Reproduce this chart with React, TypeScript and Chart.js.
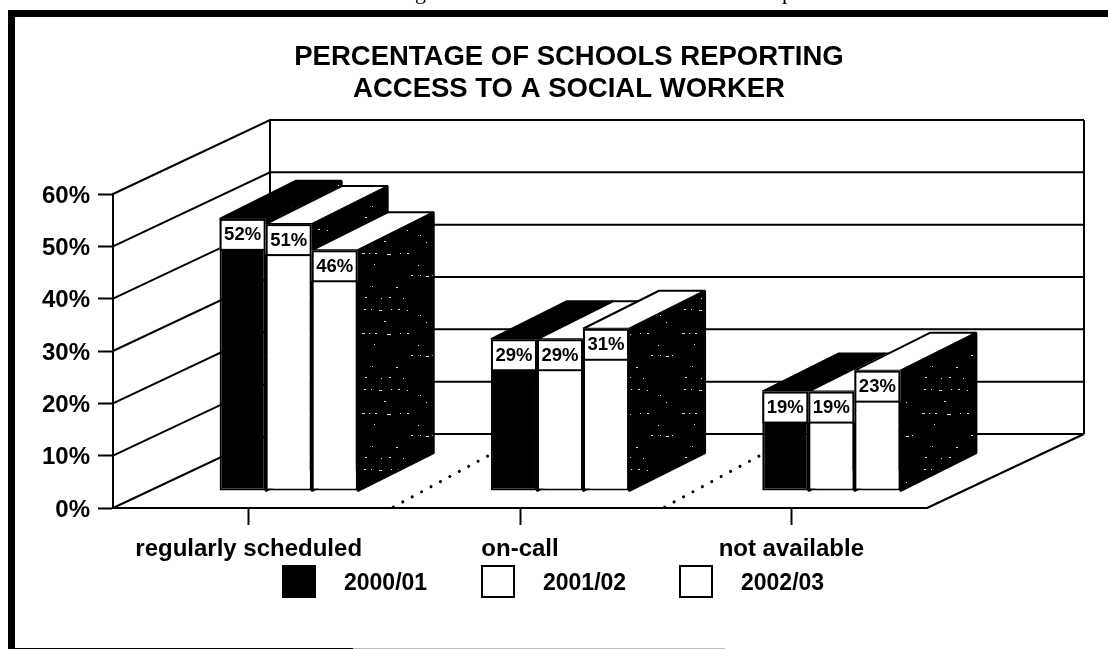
import React, { useEffect, useRef } from "react";
import { Chart, registerables } from "chart.js";

Chart.register(...registerables);

const categories = ["regularly scheduled", "on-call", "not available"];
const seriesNames = ["2000/01", "2001/02", "2002/03"];
const values2000 = [52, 29, 19];
const values2001 = [51, 29, 19];
const values2002 = [46, 31, 23];
const titleLines = ["PERCENTAGE OF SCHOOLS REPORTING", "ACCESS TO A SOCIAL WORKER"];
const yTickValues = [0, 10, 20, 30, 40, 50, 60];

const FONT = '"Liberation Sans", Arial, sans-serif';
const INK = "#000";

// Oblique projection used for the floor, the walls and the columns.
const WALL_DX = 157;
const WALL_DY = -74;
const BAR_SHIFT_X = 40;
const BAR_SHIFT_Y = -17;
const BAR_DEPTH_X = 76;
const BAR_DEPTH_Y = -38;
const LABEL_BOX_H = 31;

// Light flecks on the dark side faces of the columns: [x, y, run length].
const flecks = [
  [4, 6, 2], [11, 6, 1], [19, 7, 3], [31, 6, 1], [38, 6, 2], [47, 7, 1],
  [60, 12, 1], [24, 18, 2], [66, 19, 1],
  [2, 30, 3], [9, 30, 1], [15, 30, 2], [27, 31, 4], [40, 30, 1], [47, 30, 2],
  [14, 41, 1], [58, 42, 1],
  [51, 52, 2], [60, 52, 1], [66, 53, 3], [72, 52, 1],
  [12, 63, 1], [36, 64, 2],
  [5, 74, 2], [21, 75, 1], [29, 74, 2], [43, 75, 1],
];

function sideFill(ctx: CanvasRenderingContext2D): CanvasPattern | string {
  const tile = document.createElement("canvas");
  tile.width = 80;
  tile.height = 80;
  const t = tile.getContext("2d");
  if (!t) return INK;
  t.fillStyle = INK;
  t.fillRect(0, 0, 80, 80);
  t.fillStyle = "#e8e8e8";
  flecks.forEach(([x, y, run]) => t.fillRect(x, y, run, 1));
  return ctx.createPattern(tile, "repeat") || INK;
}

function polygon(ctx: CanvasRenderingContext2D, pts: number[][], fill: any) {
  ctx.beginPath();
  pts.forEach(([x, y], i) => (i ? ctx.lineTo(x, y) : ctx.moveTo(x, y)));
  ctx.closePath();
  ctx.fillStyle = fill;
  ctx.fill();
  ctx.lineWidth = 2;
  ctx.lineJoin = "bevel";
  ctx.strokeStyle = INK;
  ctx.stroke();
}

const chart3d = {
  id: "chart3d",
  afterLayout(chart: any) {
    // Heading is centred on the plot with its depth, not on the page.
    if (chart.titleBlock) chart.titleBlock.left = 211;
  },
  beforeDraw(chart: any) {
    const { ctx, width, height } = chart;
    ctx.save();
    ctx.fillStyle = "#fff";
    ctx.fillRect(0, 0, width, height);
    ctx.fillStyle = INK;
    ctx.fillRect(8, 10, width - 8, 7);
    ctx.fillRect(8, 10, 7, height - 10);
    ctx.fillRect(8, 648, 345, 1);
    ctx.fillStyle = "#bdbdbd";
    ctx.fillRect(353, 648, 372, 1);
    // Descenders of the running text above the frame.
    ctx.fillStyle = INK;
    ctx.font = '22px "Liberation Serif", serif';
    ctx.textAlign = "left";
    ctx.textBaseline = "alphabetic";
    ctx.fillText("g", 415, -1);
    ctx.fillText("p", 782, -1);
    ctx.restore();
  },
  beforeDatasetsDraw(chart: any) {
    const { ctx, chartArea, scales } = chart;
    const { left, right, bottom } = chartArea;
    const y = scales.y;
    const x = scales.x;
    ctx.save();
    ctx.strokeStyle = INK;
    ctx.lineWidth = 2;
    ctx.lineCap = "butt";
    ctx.beginPath();
    // Side wall and back wall gridlines.
    yTickValues.forEach((v) => {
      const py = y.getPixelForValue(v);
      ctx.moveTo(left, py);
      ctx.lineTo(left + WALL_DX, py + WALL_DY);
      ctx.lineTo(right + WALL_DX, py + WALL_DY);
    });
    // Back-wall verticals and the floor's far right edge.
    const topY = y.getPixelForValue(60) + WALL_DY;
    const baseY = bottom + WALL_DY;
    ctx.moveTo(left + WALL_DX, topY);
    ctx.lineTo(left + WALL_DX, baseY);
    ctx.moveTo(right + WALL_DX, topY);
    ctx.lineTo(right + WALL_DX, baseY);
    ctx.moveTo(right, bottom);
    ctx.lineTo(right + WALL_DX, baseY);
    ctx.stroke();

    // Dotted category separators across the floor.
    const step = x.getPixelForValue(1) - x.getPixelForValue(0);
    ctx.save();
    ctx.lineCap = "round";
    ctx.lineWidth = 3;
    ctx.setLineDash([0.1, 10.6]);
    ctx.beginPath();
    [0, 1].forEach((i) => {
      const sx = x.getPixelForValue(i) + step / 2 + 9;
      ctx.moveTo(sx, bottom - 1);
      ctx.lineTo(sx + 100, bottom - 55);
    });
    ctx.stroke();
    ctx.restore();

    // Side and top faces, drawn left to right so nearer columns overlap.
    ctx.save();
    ctx.translate(BAR_SHIFT_X, BAR_SHIFT_Y);
    const side = sideFill(ctx);
    const base = y.getPixelForValue(0);
    [0, 1, 2].forEach((col) => {
      chart.data.datasets.forEach((ds: any, di: number) => {
        const bar = chart.getDatasetMeta(di).data[col];
        const x0 = bar.x - bar.width / 2;
        const x1 = bar.x + bar.width / 2;
        const top = bar.y;
        polygon(ctx, [[x1, top], [x1 + BAR_DEPTH_X, top + BAR_DEPTH_Y], [x1 + BAR_DEPTH_X, base + BAR_DEPTH_Y], [x1, base]], side);
        polygon(ctx, [[x0, top], [x1, top], [x1 + BAR_DEPTH_X, top + BAR_DEPTH_Y], [x0 + BAR_DEPTH_X, top + BAR_DEPTH_Y]], ds.backgroundColor);
      });
    });
    ctx.restore();
    ctx.restore();

    // Front faces are the chart's own bars, pushed back onto the floor.
    ctx.save();
    ctx.translate(BAR_SHIFT_X, BAR_SHIFT_Y);
  },
  afterDatasetsDraw(chart: any) {
    const { ctx } = chart;
    ctx.restore();

    // Value plates on the column fronts.
    ctx.save();
    ctx.translate(BAR_SHIFT_X, BAR_SHIFT_Y);
    chart.data.datasets.forEach((ds: any, di: number) => {
      chart.getDatasetMeta(di).data.forEach((bar: any, i: number) => {
        const w = bar.width;
        ctx.fillStyle = "#fff";
        ctx.strokeStyle = INK;
        ctx.lineWidth = 2;
        ctx.fillRect(bar.x - w / 2, bar.y, w, LABEL_BOX_H);
        ctx.strokeRect(bar.x - w / 2 + 1, bar.y + 1, w - 2, LABEL_BOX_H - 1);
        ctx.fillStyle = INK;
        ctx.font = `bold 18.5px ${FONT}`;
        ctx.textAlign = "center";
        ctx.textBaseline = "middle";
        ctx.fillText(`${ds.data[i]}%`, bar.x, bar.y + LABEL_BOX_H / 2 + 1);
      });
    });
    ctx.restore();

    // Series key under the category labels.
    const swatchX = [283, 482, 680];
    ctx.save();
    chart.data.datasets.forEach((ds: any, di: number) => {
      ctx.fillStyle = ds.backgroundColor;
      ctx.strokeStyle = INK;
      ctx.lineWidth = 2;
      ctx.fillRect(swatchX[di], 566, 32, 31);
      ctx.strokeRect(swatchX[di], 566, 32, 31);
      ctx.fillStyle = INK;
      ctx.font = `bold 23px ${FONT}`;
      ctx.textAlign = "left";
      ctx.textBaseline = "alphabetic";
      ctx.fillText(ds.label, swatchX[di] + 61, 590);
    });
    ctx.restore();
  },
};

export default function App() {
  const canvasRef = useRef<HTMLCanvasElement>(null);

  useEffect(() => {
    if (!canvasRef.current) return;
    const fills = ["#000", "#fff", "#fff"];
    const series = [values2000, values2001, values2002];
    const chart = new Chart(canvasRef.current, {
      type: "bar",
      data: {
        labels: categories,
        datasets: seriesNames.map((label, i) => ({
          label,
          data: series[i],
          backgroundColor: fills[i],
          borderColor: INK,
          borderWidth: 2,
          borderSkipped: false,
          categoryPercentage: 0.509,
          barPercentage: 1,
        })),
      },
      options: {
        responsive: false,
        animation: false,
        layout: { padding: { left: 0, right: 181, top: 0, bottom: 0 } },
        plugins: {
          legend: { display: false },
          tooltip: { enabled: false },
          title: {
            display: true,
            text: titleLines,
            color: INK,
            font: { family: FONT, size: 27.5, weight: "bold", lineHeight: 32 / 27.5 },
            padding: { top: 41, bottom: 89 },
          },
        },
        scales: {
          x: {
            afterFit: (s: any) => { s.height = 141; },
            border: { color: INK, width: 2 },
            grid: { drawOnChartArea: false, offset: false, tickLength: 17, tickColor: INK, tickWidth: 2, color: INK },
            ticks: { color: INK, font: { family: FONT, size: 24, weight: "bold" }, padding: 10, maxRotation: 0 },
          },
          y: {
            min: 0,
            max: 60,
            afterFit: (s: any) => { s.width = 113; },
            border: { color: INK, width: 2 },
            grid: { drawOnChartArea: false, tickLength: 15, tickColor: INK, tickWidth: 2, color: INK },
            ticks: { stepSize: 10, color: INK, padding: 8, labelOffset: 2, font: { family: FONT, size: 24, weight: "bold" }, callback: (v: any) => `${v}%` },
          },
        },
      },
      plugins: [chart3d],
    } as any);
    return () => chart.destroy();
  }, []);

  return (
    <div style={{ position: "fixed", left: 0, top: 0, width: 1108, height: 649, overflow: "hidden", background: "#fff" }}>
      <canvas ref={canvasRef} width={1108} height={649} style={{ display: "block" }} />
    </div>
  );
}
